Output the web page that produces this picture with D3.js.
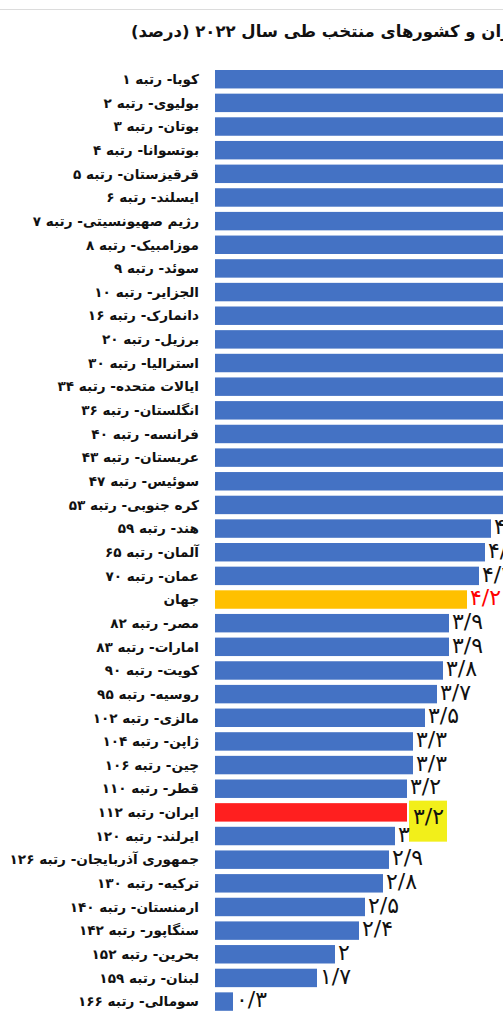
<!DOCTYPE html>
<html><head><meta charset="utf-8">
<script src="https://cdn.jsdelivr.net/npm/d3@7"></script>
<style>
html,body{margin:0;padding:0;background:#fff;overflow:hidden;}
svg{display:block;}
</style></head>
<body>
<script>
const titleText = "سهم مخارج آموزشی دولت از تولید ناخالص داخلی در ایران و کشورهای منتخب طی سال ۲۰۲۲ (درصد)";
const categories = [
"کوبا- رتبه ۱","بولیوی- رتبه ۲","بوتان- رتبه ۳","بوتسوانا- رتبه ۴","قرقیزستان- رتبه ۵",
"ایسلند- رتبه ۶","رژیم صهیونسیتی- رتبه ۷","موزامبیک- رتبه ۸","سوئد- رتبه ۹","الجزایر- رتبه ۱۰",
"دانمارک- رتبه ۱۶","برزیل- رتبه ۲۰","استرالیا- رتبه ۳۰","ایالات متحده- رتبه ۳۴","انگلستان- رتبه ۳۶",
"فرانسه- رتبه ۴۰","عربستان- رتبه ۴۳","سوئیس- رتبه ۴۷","کره جنوبی- رتبه ۵۳","هند- رتبه ۵۹",
"آلمان- رتبه ۶۵","عمان- رتبه ۷۰","جهان","مصر- رتبه ۸۲","امارات- رتبه ۸۳",
"کویت- رتبه ۹۰","روسیه- رتبه ۹۵","مالزی- رتبه ۱۰۲","ژاپن- رتبه ۱۰۴","چین- رتبه ۱۰۶",
"قطر- رتبه ۱۱۰","ایران- رتبه ۱۱۲","ایرلند- رتبه ۱۲۰","جمهوری آذربایجان- رتبه ۱۲۶","ترکیه- رتبه ۱۳۰",
"ارمنستان- رتبه ۱۴۰","سنگاپور- رتبه ۱۴۲","بحرین- رتبه ۱۵۲","لبنان- رتبه ۱۵۹","سومالی- رتبه ۱۶۶"
];
const values = [
12.9, 9.8, 7.5, 7.2, 7.0, 6.9, 6.8, 6.7, 6.6, 6.5,
6.3, 6.0, 5.6, 5.4, 5.3, 5.2, 5.1, 5.0, 4.9, 4.6,
4.5, 4.4, 4.2, 3.9, 3.9, 3.8, 3.7, 3.5, 3.3, 3.3,
3.2, 3.2, 3.0, 2.9, 2.8, 2.5, 2.4, 2.0, 1.7, 0.3
];
const worldLabel = "جهان";
const iranLabel = "ایران- رتبه ۱۱۲";

const W = 503, H = 1013;
const svg = d3.select("body").append("svg").attr("width", W).attr("height", H);
const data = categories.map((c, i) => ({c, v: values[i]}));

const x = d3.scaleLinear().domain([0, 1]).range([215, 275]);
const y = d3.scaleBand().domain(categories).range([67.4, 1013.4]).paddingInner(0.22).paddingOuter(0.11);

const fa = s => s.replace(/\d/g, d => "۰۱۲۳۴۵۶۷۸۹"[+d]).replace(".", "/");
const fmt = v => fa(String(+v.toFixed(1)));

// top rule
svg.append("line").attr("x1", 0).attr("x2", W).attr("y1", 9.5).attr("y2", 9.5)
  .attr("stroke", "#dcdcdc").attr("stroke-width", 1);

// title
svg.append("text").attr("x", 131).attr("y", 37)
  .attr("direction", "rtl").attr("text-anchor", "end")
  .attr("font-family", "DejaVu Sans, sans-serif").attr("font-weight", "bold")
  .attr("font-size", 16.5).attr("fill", "#111").text(titleText);

// bars
svg.append("g").selectAll("rect").data(data).join("rect")
  .attr("x", x(0)).attr("y", d => y(d.c))
  .attr("width", d => x(d.v) - x(0)).attr("height", y.bandwidth())
  .attr("fill", d => d.c === worldLabel ? "#FFC000" : d.c === iranLabel ? "#FF1F1F" : "#4472C4");

// highlight box for Iran value
const iran = data.find(d => d.c === iranLabel);
svg.append("rect").attr("x", x(iran.v) + 2).attr("y", y(iranLabel) - 2.5)
  .attr("width", 38).attr("height", 41).attr("fill", "#F2EF1A");

// category labels
svg.append("g").selectAll("text").data(data).join("text")
  .attr("x", 199).attr("y", d => y(d.c) + y.bandwidth() / 2)
  .attr("dy", "0.35em").attr("direction", "rtl").attr("text-anchor", "start")
  .attr("font-family", "DejaVu Sans, sans-serif").attr("font-weight", "bold")
  .attr("font-size", 13.6).attr("fill", "#111").text(d => d.c);

// value labels
svg.append("g").selectAll("text").data(data).join("text")
  .attr("x", d => x(d.v) + (d.c === iranLabel ? 6 : 3))
  .attr("y", d => y(d.c) + y.bandwidth() / 2 + (d.c === iranLabel ? 4 : -2))
  .attr("dy", "0.35em").attr("text-anchor", "start")
  .attr("font-family", "DejaVu Sans, sans-serif")
  .attr("font-size", 22).attr("fill", d => d.c === worldLabel ? "#FF0000" : "#111")
  .text(d => fmt(d.v));
</script>
</body></html>
